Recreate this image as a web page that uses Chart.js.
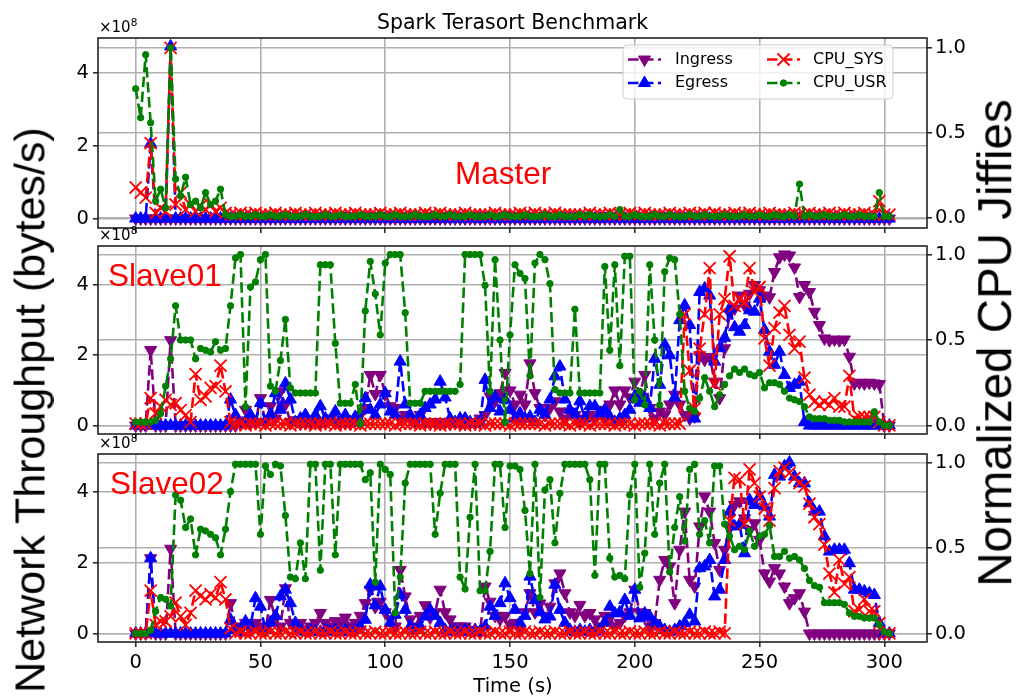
<!DOCTYPE html>
<html>
<head>
<meta charset="utf-8">
<title>Spark Terasort Benchmark</title>
<script src="https://cdn.jsdelivr.net/npm/chart.js@4.4.1/dist/chart.umd.min.js"></script>
<style>
  html, body { margin: 0; padding: 0; background: #fff; }
  #fig { position: relative; width: 1020px; height: 698px; overflow: hidden; }
  #fig canvas { position: absolute; left: 0; }
  .lbl { position: absolute; white-space: nowrap; line-height: 1; }
  .dv { font-family: "DejaVu Sans", sans-serif; color: #000; }
  .ls { font-family: "Liberation Sans", Arial, sans-serif; }
  .node { color: #ff0000; font-size: 31.5px; }
  .offset { font-size: 15px; }
  .offset span { font-size: 10.5px; position: relative; top: -5.5px; }
</style>
</head>
<body>
<div id="fig">
  <canvas id="master" width="1020" height="240" style="top:0"></canvas>
  <canvas id="slave01" width="1020" height="200" style="top:240px"></canvas>
  <canvas id="slave02" width="1020" height="258" style="top:440px"></canvas>

  <div class="lbl dv" style="left:512.5px; top:11.7px; font-size:20.5px; transform:translateX(-50%)">Spark Terasort Benchmark</div>
  <div class="lbl dv offset" style="left:99px; top:19.6px">×10<span>8</span></div>
  <div class="lbl dv offset" style="left:99px; top:227.6px">×10<span>8</span></div>
  <div class="lbl dv offset" style="left:99px; top:435.9px">×10<span>8</span></div>
  <div class="lbl ls node" style="left:455px; top:158.4px">Master</div>
  <div class="lbl ls node" style="left:108px; top:260.4px">Slave01</div>
  <div class="lbl ls node" style="left:110px; top:468.4px">Slave02</div>
  <div class="lbl dv" style="left:513px; top:675.5px; font-size:19.5px; transform:translateX(-50%)">Time (s)</div>
  <div class="lbl ls" style="left:30px; top:410px; font-size:43px; transform:translate(-50%,-50%) rotate(-90deg)">Network Throughput (bytes/s)</div>
  <div class="lbl ls" style="left:995.4px; top:342.5px; font-size:47.5px; transform:translate(-50%,-50%) rotate(-90deg)">Normalized CPU Jiffies</div>
</div>

<script>
// sample times (s)
const times = [
  0, 2, 4, 6, 8, 10, 12, 14, 16, 18,
  20, 22, 24, 26, 28, 30, 32, 34, 36, 38,
  40, 42, 44, 46, 48, 50, 52, 54, 56, 58,
  60, 62, 64, 66, 68, 70, 72, 74, 76, 78,
  80, 82, 84, 86, 88, 90, 92, 94, 96, 98,
  100, 102, 104, 106, 108, 110, 112, 114, 116, 118,
  120, 122, 124, 126, 128, 130, 132, 134, 136, 138,
  140, 142, 144, 146, 148, 150, 152, 154, 156, 158,
  160, 162, 164, 166, 168, 170, 172, 174, 176, 178,
  180, 182, 184, 186, 188, 190, 192, 194, 196, 198,
  200, 202, 204, 206, 208, 210, 212, 214, 216, 218,
  220, 222, 224, 226, 228, 230, 232, 234, 236, 238,
  240, 242, 244, 246, 248, 250, 252, 254, 256, 258,
  260, 262, 264, 266, 268, 270, 272, 274, 276, 278,
  280, 282, 284, 286, 288, 290, 292, 294, 296, 298,
  300, 302
];

const timeTicks = [0, 50, 100, 150, 200, 250, 300];
const throughputTicks = [0, 2, 4];      // x 1e8 bytes/s
const jiffyTicks = [0, 0.5, 1.0];

// ---- Master (network in 1e8 bytes/s, cpu normalized) ----
const masterIngress = [
  0, 0, 0, 0, 0, 0, 0, 0, 0, 0,
  0, 0, 0, 0, 0, 0, 0, 0, 0, 0,
  0, 0, 0, 0, 0, 0, 0, 0, 0, 0,
  0, 0, 0, 0, 0, 0, 0, 0, 0, 0,
  0, 0, 0, 0, 0, 0, 0, 0, 0, 0,
  0, 0, 0, 0, 0, 0, 0, 0, 0, 0,
  0, 0, 0, 0, 0, 0, 0, 0, 0, 0,
  0, 0, 0, 0, 0, 0, 0, 0, 0, 0,
  0, 0, 0, 0, 0, 0, 0, 0, 0, 0,
  0, 0, 0, 0, 0, 0, 0, 0, 0, 0,
  0, 0, 0, 0, 0, 0, 0, 0, 0, 0,
  0, 0, 0, 0, 0, 0, 0, 0, 0, 0,
  0, 0, 0, 0, 0, 0, 0, 0, 0, 0,
  0, 0, 0, 0, 0, 0, 0, 0, 0, 0,
  0, 0, 0, 0, 0, 0, 0, 0, 0, 0,
  0, 0
];
const masterEgress = [
  0, 0, 0, 2.05, 0, 0, 0, 4.72, 0, 0,
  0, 0, 0, 0, 0, 0, 0, 0, 0, 0,
  0, 0, 0, 0, 0, 0, 0, 0, 0, 0,
  0, 0, 0, 0, 0, 0, 0, 0, 0, 0,
  0, 0, 0, 0, 0, 0, 0, 0, 0, 0,
  0, 0, 0, 0, 0, 0, 0, 0, 0, 0,
  0, 0, 0, 0, 0, 0, 0, 0, 0, 0,
  0, 0, 0, 0, 0, 0, 0, 0, 0, 0,
  0, 0, 0, 0, 0, 0, 0, 0, 0, 0,
  0, 0, 0, 0, 0, 0, 0, 0, 0, 0,
  0, 0, 0, 0, 0, 0, 0, 0, 0, 0,
  0, 0, 0, 0, 0, 0, 0, 0, 0, 0,
  0, 0, 0, 0, 0, 0, 0, 0, 0, 0,
  0, 0, 0, 0, 0, 0, 0, 0, 0, 0,
  0, 0, 0, 0, 0, 0, 0, 0, 0, 0,
  0, 0
];
const masterSys = [
  0.18, 0.15, 0.12, 0.44, 0.03, 0.06, 0.04, 1.00, 0.08, 0.15,
  0.05, 0.08, 0.04, 0.07, 0.05, 0.08, 0.04, 0.06, 0.03, 0.02,
  0.02, 0.03, 0.02, 0.02, 0.03, 0.02, 0.02, 0.02, 0.03, 0.02,
  0.02, 0.02, 0.03, 0.02, 0.02, 0.02, 0.03, 0.02, 0.02, 0.02,
  0.03, 0.02, 0.02, 0.02, 0.03, 0.02, 0.02, 0.02, 0.02, 0.03,
  0.02, 0.02, 0.02, 0.03, 0.02, 0.02, 0.02, 0.02, 0.03, 0.02,
  0.02, 0.03, 0.02, 0.02, 0.02, 0.02, 0.03, 0.02, 0.02, 0.02,
  0.02, 0.02, 0.03, 0.02, 0.02, 0.02, 0.02, 0.03, 0.02, 0.02,
  0.03, 0.02, 0.02, 0.02, 0.03, 0.02, 0.02, 0.02, 0.02, 0.02,
  0.02, 0.03, 0.02, 0.02, 0.02, 0.03, 0.02, 0.02, 0.02, 0.03,
  0.02, 0.02, 0.03, 0.02, 0.02, 0.02, 0.02, 0.03, 0.02, 0.02,
  0.02, 0.03, 0.02, 0.02, 0.03, 0.02, 0.03, 0.02, 0.02, 0.02,
  0.03, 0.02, 0.02, 0.03, 0.02, 0.02, 0.02, 0.03, 0.02, 0.02,
  0.02, 0.02, 0.03, 0.02, 0.02, 0.03, 0.02, 0.02, 0.02, 0.03,
  0.02, 0.02, 0.03, 0.02, 0.02, 0.02, 0.03, 0.02, 0.02, 0.10,
  0.02, 0.02
];
const masterUsr = [
  0.76, 0.59, 0.96, 0.56, 0.10, 0.17, 0.06, 1.00, 0.23, 0.13,
  0.24, 0.08, 0.10, 0.06, 0.15, 0.08, 0.10, 0.17, 0.02, 0.01,
  0.01, 0.02, 0.01, 0.01, 0.02, 0.01, 0.01, 0.02, 0.01, 0.01,
  0.02, 0.01, 0.01, 0.01, 0.02, 0.01, 0.01, 0.01, 0.02, 0.01,
  0.01, 0.02, 0.01, 0.01, 0.01, 0.02, 0.01, 0.01, 0.01, 0.02,
  0.01, 0.01, 0.02, 0.01, 0.01, 0.01, 0.02, 0.01, 0.01, 0.01,
  0.02, 0.01, 0.01, 0.02, 0.01, 0.01, 0.01, 0.02, 0.01, 0.01,
  0.01, 0.02, 0.01, 0.01, 0.02, 0.01, 0.01, 0.01, 0.02, 0.01,
  0.01, 0.01, 0.02, 0.01, 0.01, 0.02, 0.01, 0.01, 0.01, 0.02,
  0.01, 0.02, 0.01, 0.01, 0.01, 0.02, 0.01, 0.05, 0.01, 0.01,
  0.02, 0.01, 0.01, 0.01, 0.02, 0.01, 0.01, 0.02, 0.01, 0.01,
  0.01, 0.02, 0.01, 0.01, 0.02, 0.01, 0.01, 0.01, 0.02, 0.01,
  0.01, 0.01, 0.02, 0.01, 0.01, 0.02, 0.01, 0.01, 0.02, 0.01,
  0.01, 0.02, 0.01, 0.20, 0.01, 0.02, 0.01, 0.01, 0.02, 0.01,
  0.01, 0.01, 0.02, 0.01, 0.01, 0.02, 0.01, 0.01, 0.01, 0.15,
  0.01, 0.01
];

// ---- Slave01 ----
const slave01Ingress = [
  0, 0, 0, 2.15, 0, 0, 0, 2.43, 0, 0,
  0, 0, 0, 0, 0, 0, 0, 0, 0, 0,
  0, 0.05, 0.45, 0.05, 0.1, 0.78, 0.1, 0.55, 0.2, 0.97,
  0.6, 0.1, 0.15, 0.05, 0.1, 0.05, 0.1, 0.05, 0.1, 0.2,
  0.1, 0.05, 0.1, 0.05, 0.15, 0.3, 0.5, 1.44, 0.9, 1.44,
  0.9, 0.55, 0.5, 0.2, 0.3, 0.2, 0.1, 0.3, 0.1, 0.05,
  0.1, 0.05, 0.1, 0.05, 0.1, 0.05, 0.05, 0.1, 0.05, 0.2,
  0.3, 0.83, 0.7, 0.92, 1.5, 1.0, 0.6, 0.88, 0.6, 1.77,
  0.92, 0.5, 0.3, 0.5, 0.69, 0.4, 0.2, 0.4, 0.3, 0.1,
  0.2, 0.3, 0.2, 0.45, 0.2, 0.6, 1.0, 0.6, 1.0, 0.8,
  1.25, 0.9, 1.44, 0.5, 0.2, 0.4, 0.3, 0.6, 0.88, 0.6,
  0.3, 0.2, 0.26, 2.0, 1.87, 1.95, 1.25, 0.78, 2.2, 3.19,
  3.33, 3.7, 3.42, 3.75, 4.0, 3.85, 3.7, 3.65, 4.37, 4.79,
  4.87, 4.84, 4.5, 3.66, 4.0, 3.8, 3.24, 2.86, 2.48, 2.43,
  2.45, 2.43, 2.45, 1.96, 1.2, 1.22, 1.2, 1.22, 1.2, 1.18,
  0, 0
];
const slave01Egress = [
  0, 0, 0, 0, 0, 0, 0, 0, 0, 0,
  0, 0, 0, 0, 0, 0, 0, 0, 0, 0.74,
  0.3, 0.05, 0.1, 0.3, 0.1, 0.64, 0.1, 0.3, 0.92, 0.45,
  1.2, 0.74, 0.1, 0.2, 0.3, 0.1, 0.3, 0.55, 0.2, 0.1,
  0.4, 0.1, 0.3, 0.1, 0.25, 0.1, 0.78, 0.45, 0.3, 0.6,
  0.92, 0.4, 0.3, 1.82, 0.6, 0.3, 0.1, 0.3, 0.5, 0.6,
  0.74, 1.25, 0.8, 0.2, 0.1, 0.2, 0.2, 0.1, 0.05, 0.1,
  1.3, 0.5, 0.8, 0.4, 0.74, 0.45, 0.2, 0.35, 0.2, 0.25,
  0.1, 0.45, 0.3, 0.74, 1.4, 1.68, 0.74, 0.45, 0.3, 0.69,
  0.2, 0.55, 0.55, 0.35, 0.45, 0.25, 0.1, 0.2, 0.3, 0.45,
  0.83, 0.65, 0.78, 0.5, 1.9, 1.16, 2.3, 2.0, 0.8, 3.0,
  3.42, 2.86, 0.2, 3.8, 3.9, 3.7, 1.82, 2.2, 2.5, 3.33,
  2.8, 2.67, 2.86, 3.28, 3.24, 3.61, 2.72, 2.1, 1.73, 2.1,
  1.44, 1.07, 1.16, 1.25, 0.1, 0, 0, 0, 0, 0,
  0, 0, 0, 0, 0, 0, 0, 0, 0, 0,
  0, 0
];
const slave01Sys = [
  0.01, 0.01, 0.01, 0.16, 0.07, 0.11, 0.15, 0.12, 0.13, 0.09,
  0.06, 0.02, 0.30, 0.15, 0.17, 0.22, 0.23, 0.35, 0.20, 0.02,
  0.01, 0.01, 0.00, 0.01, 0.01, 0.01, 0.00, 0.01, 0.01, 0.01,
  0.01, 0.00, 0.01, 0.01, 0.01, 0.01, 0.00, 0.01, 0.01, 0.01,
  0.00, 0.01, 0.01, 0.01, 0.01, 0.00, 0.01, 0.01, 0.01, 0.01,
  0.01, 0.01, 0.00, 0.01, 0.01, 0.01, 0.01, 0.00, 0.01, 0.01,
  0.01, 0.00, 0.01, 0.01, 0.01, 0.01, 0.00, 0.01, 0.01, 0.01,
  0.00, 0.01, 0.01, 0.01, 0.01, 0.00, 0.01, 0.01, 0.01, 0.01,
  0.01, 0.01, 0.00, 0.01, 0.01, 0.01, 0.01, 0.00, 0.01, 0.01,
  0.01, 0.00, 0.01, 0.01, 0.01, 0.01, 0.00, 0.01, 0.01, 0.01,
  0.00, 0.01, 0.01, 0.01, 0.01, 0.00, 0.01, 0.01, 0.01, 0.01,
  0.65, 0.32, 0.10, 0.45, 0.65, 0.92, 0.24, 0.65, 0.74, 0.99,
  0.70, 0.74, 0.72, 0.92, 0.78, 0.81, 0.51, 0.35, 0.57, 0.66,
  0.70, 0.53, 0.45, 0.49, 0.28, 0.18, 0.14, 0.12, 0.14, 0.12,
  0.16, 0.11, 0.11, 0.29, 0.04, 0.05, 0.05, 0.05, 0.05, 0.02,
  0.00, 0.00
];
const slave01Usr = [
  0.02, 0.02, 0.02, 0.02, 0.03, 0.07, 0.23, 0.39, 0.70, 0.50,
  0.50, 0.50, 0.39, 0.45, 0.44, 0.43, 0.49, 0.44, 0.45, 0.70,
  0.98, 1.00, 0.11, 0.81, 0.84, 0.97, 1.00, 0.23, 0.20, 0.38,
  0.62, 0.22, 0.19, 0.19, 0.19, 0.19, 0.19, 0.94, 0.94, 0.94,
  0.48, 0.13, 0.13, 0.13, 0.24, 0.01, 0.67, 0.96, 0.77, 0.53,
  0.95, 1.00, 1.00, 1.00, 0.66, 0.13, 0.13, 0.13, 0.20, 0.20,
  0.20, 0.20, 0.20, 0.20, 0.20, 0.24, 1.00, 1.00, 1.00, 1.00,
  0.82, 0.20, 0.97, 0.50, 0.02, 0.53, 0.94, 0.89, 0.86, 0.29,
  0.95, 1.00, 0.97, 0.83, 0.21, 0.19, 0.19, 0.19, 0.68, 0.19,
  0.19, 0.19, 0.19, 0.19, 0.93, 0.44, 0.94, 0.35, 0.99, 0.99,
  0.15, 0.20, 0.12, 0.94, 0.50, 0.12, 0.90, 0.98, 0.97, 0.65,
  0.20, 0.10, 0.08, 0.16, 0.28, 0.20, 0.11, 0.18, 0.24, 0.29,
  0.33, 0.31, 0.33, 0.30, 0.29, 0.31, 0.22, 0.25, 0.25, 0.24,
  0.20, 0.16, 0.15, 0.14, 0.11, 0.05, 0.04, 0.04, 0.04, 0.03,
  0.03, 0.03, 0.02, 0.02, 0.02, 0.02, 0.02, 0.02, 0.08, 0.02,
  0.00, 0.00
];

// ---- Slave02 ----
const slave02Ingress = [
  0, 0, 0, 2.13, 0, 0, 0, 2.4, 0, 0,
  0, 0, 0, 0, 0, 0, 0, 0, 0, 0.86,
  0.2, 0.1, 0.3, 0.1, 0.3, 0.2, 0.1, 0.95, 0.4, 0.2,
  1.28, 0.3, 0.2, 0.3, 0.1, 0.2, 0.3, 0.58, 0.3, 0.2,
  0.35, 0.3, 0.45, 0.2, 0.3, 0.5, 0.86, 1.24, 0.75, 0.9,
  0.6, 0.4, 0.2, 1.8, 1.05, 0.4, 0.2, 0.5, 0.8, 0.45,
  0.6, 1.24, 0.6, 0.4, 0.2, 0.2, 0.2, 0.1, 0.1, 0.05,
  1.33, 0.9, 0.5, 0.4, 0.5, 0.25, 0.3, 0.1, 0.6, 1.14,
  0.6, 0.85, 0.5, 0.76, 1.42, 1.7, 1.14, 0.6, 0.5, 0.81,
  0.5, 0.58, 0.4, 0.2, 0.5, 0.45, 0.2, 0.3, 0.5, 0.6,
  1.24, 0.6, 0.58, 0.2, 0.3, 1.52, 2.08, 1.9, 0.86, 2.37,
  3.45, 1.52, 1.33, 3.03, 3.88, 3.45, 2.56, 1.8, 2.37, 2.98,
  3.64, 3.74, 3.26, 2.93, 3.12, 2.65, 1.7, 1.47, 1.85, 1.7,
  1.33, 0.86, 1.0, 1.14, 0.62, 0, 0, 0, 0, 0,
  0, 0, 0, 0, 0, 0, 0, 0, 0, 0,
  0, 0
];
const slave02Egress = [
  0, 0, 0, 2.13, 0, 0, 0, 0, 0, 0,
  0, 0, 0, 0, 0, 0, 0, 0, 0, 0.39,
  0.1, 0.05, 0.34, 0.2, 1.0, 0.76, 0.1, 0.3, 0.5, 1.05,
  1.24, 0.86, 0.3, 0.1, 0.05, 0.1, 0.05, 0.05, 0.1, 0.05,
  0.1, 0.05, 0.1, 0.05, 0.1, 0.2, 0.39, 1.38, 0.8, 1.33,
  0.67, 0.3, 0.53, 1.1, 0.67, 0.2, 0.1, 0.2, 0.48, 0.67,
  0.5, 0.3, 0.1, 0.05, 0.1, 0.05, 0.1, 0.05, 0.1, 0.05,
  0.2, 0.76, 0.5, 0.86, 1.42, 1.0, 0.67, 0.3, 0.5, 1.61,
  0.95, 0.6, 0.4, 0.48, 1.38, 0.67, 0.3, 0.1, 0.05, 0.1,
  0.05, 0.1, 0.05, 0.1, 0.3, 0.76, 0.57, 0.6, 0.95, 0.5,
  1.24, 0.43, 0.57, 0.48, 0.3, 0.2, 0.1, 0.05, 0.1, 0.2,
  0.3, 0.53, 0.34, 1.85, 1.9, 2.08, 1.05, 1.24, 2.08, 3.45,
  3.03, 3.08, 2.27, 3.78, 3.64, 3.88, 3.6, 3.31, 4.49, 4.44,
  4.73, 4.84, 4.44, 4.25, 4.25, 3.69, 3.45, 3.45, 2.75, 2.32,
  2.37, 2.37, 2.37, 1.99, 1.24, 1.24, 1.19, 1.14, 1.09, 0.3,
  0, 0
];
const slave02Sys = [
  0.00, 0.00, 0.00, 0.25, 0.05, 0.07, 0.07, 0.10, 0.18, 0.10,
  0.05, 0.12, 0.25, 0.22, 0.20, 0.23, 0.21, 0.30, 0.20, 0.03,
  0.00, 0.01, 0.00, 0.00, 0.01, 0.00, 0.00, 0.01, 0.00, 0.00,
  0.01, 0.00, 0.00, 0.01, 0.00, 0.00, 0.01, 0.00, 0.00, 0.01,
  0.00, 0.00, 0.01, 0.00, 0.00, 0.01, 0.00, 0.00, 0.01, 0.00,
  0.00, 0.01, 0.00, 0.00, 0.01, 0.00, 0.00, 0.01, 0.00, 0.00,
  0.01, 0.00, 0.00, 0.01, 0.00, 0.00, 0.01, 0.00, 0.00, 0.01,
  0.00, 0.00, 0.01, 0.00, 0.00, 0.01, 0.00, 0.00, 0.01, 0.00,
  0.00, 0.01, 0.00, 0.00, 0.01, 0.00, 0.00, 0.01, 0.00, 0.00,
  0.01, 0.00, 0.00, 0.01, 0.00, 0.00, 0.01, 0.00, 0.00, 0.01,
  0.00, 0.00, 0.01, 0.00, 0.00, 0.01, 0.00, 0.00, 0.01, 0.00,
  0.00, 0.01, 0.00, 0.00, 0.01, 0.00, 0.00, 0.01, 0.00, 0.66,
  0.91, 0.90, 0.64, 0.96, 0.88, 0.80, 0.73, 0.66, 0.85, 0.95,
  0.97, 0.94, 0.91, 0.88, 0.86, 0.76, 0.68, 0.64, 0.52, 0.35,
  0.24, 0.43, 0.29, 0.33, 0.13, 0.14, 0.20, 0.13, 0.13, 0.06,
  0.00, 0.00
];
const slave02Usr = [
  0.00, 0.00, 0.00, 0.02, 0.13, 0.21, 0.20, 0.16, 0.81, 0.78,
  0.62, 0.67, 0.46, 0.61, 0.60, 0.58, 0.56, 0.46, 0.61, 0.83,
  0.99, 0.99, 0.99, 0.99, 0.99, 0.58, 0.98, 0.93, 0.99, 0.98,
  0.69, 0.33, 0.32, 0.53, 0.32, 0.99, 0.99, 0.37, 0.99, 0.99,
  0.46, 0.99, 0.99, 0.99, 0.99, 0.99, 0.90, 0.94, 0.30, 0.99,
  0.96, 0.93, 0.12, 0.33, 0.88, 0.99, 0.99, 0.99, 0.99, 0.99,
  0.58, 0.82, 0.99, 0.99, 0.99, 0.33, 0.26, 0.68, 0.99, 0.25,
  0.25, 0.48, 0.99, 0.99, 0.62, 0.98, 0.98, 0.96, 0.72, 0.35,
  0.99, 0.21, 0.84, 0.90, 0.53, 0.82, 0.99, 0.99, 0.99, 0.99,
  0.99, 0.90, 0.34, 0.99, 0.99, 0.44, 0.33, 0.34, 0.32, 0.81,
  0.99, 0.27, 0.47, 0.99, 0.58, 0.88, 0.99, 0.36, 0.62, 0.80,
  0.54, 0.96, 0.99, 0.58, 0.66, 0.53, 0.98, 0.98, 0.64, 0.57,
  0.49, 0.51, 0.49, 0.60, 0.51, 0.57, 0.58, 0.63, 0.45, 0.45,
  0.48, 0.44, 0.45, 0.43, 0.38, 0.31, 0.28, 0.27, 0.18, 0.18,
  0.18, 0.18, 0.17, 0.12, 0.10, 0.10, 0.09, 0.09, 0.09, 0.05,
  0.01, 0.00
];

const GRID = '#b0b0b0';
const INK = '#222222';
const TICK_FONT = { family: 'DejaVu Sans', size: 19.5 };
const DASH = [10.5, 4.5];

const STYLE = {
  Ingress: { color: '#800080', shape: 'triangle', rot: 180, r: 7,   bw: 1 },
  Egress:  { color: '#0000ff', shape: 'triangle', rot: 0,   r: 7,   bw: 1 },
  CPU_SYS: { color: '#ff0000', shape: 'crossRot', rot: 0,   r: 8.5, bw: 1.8 },
  CPU_USR: { color: '#008000', shape: 'circle',   rot: 0,   r: 3.2, bw: 1 },
};

function series(label, values, axis, order) {
  const s = STYLE[label];
  return {
    label, yAxisID: axis, order,
    data: times.map((t, i) => ({ x: t, y: values[i] })),
    borderColor: s.color, backgroundColor: s.color,
    borderWidth: 2.6, borderDash: DASH, borderJoinStyle: 'round',
    pointStyle: s.shape, pointRotation: s.rot, pointRadius: s.r,
    pointBackgroundColor: s.color, pointBorderColor: s.color, pointBorderWidth: s.bw,
    tension: 0, fill: false,
  };
}

// black box round each plot area, on top of the lines like matplotlib spines
const framePlugin = {
  id: 'frame',
  afterDatasetsDraw(chart) {
    const { ctx, chartArea: a } = chart;
    ctx.save();
    ctx.strokeStyle = INK;
    ctx.lineWidth = 1.6;
    ctx.strokeRect(a.left, a.top, a.right - a.left, a.bottom - a.top);
    ctx.restore();
  }
};

// two-column legend drawn inside the top panel
const legendPlugin = {
  id: 'boxLegend',
  afterDraw(chart) {
    const ctx = chart.ctx;
    const bx = 623, by = 45, bw = 270, bh = 54, br = 4;
    ctx.save();
    ctx.beginPath();
    ctx.moveTo(bx + br, by);
    ctx.arcTo(bx + bw, by, bx + bw, by + bh, br);
    ctx.arcTo(bx + bw, by + bh, bx, by + bh, br);
    ctx.arcTo(bx, by + bh, bx, by, br);
    ctx.arcTo(bx, by, bx + bw, by, br);
    ctx.closePath();
    ctx.fillStyle = 'rgba(255,255,255,0.8)';
    ctx.fill();
    ctx.strokeStyle = '#cccccc';
    ctx.lineWidth = 1;
    ctx.stroke();

    const slots = [[628, 59.5, 47], [628, 83, 47], [767, 59.5, 46], [767, 83, 46]];
    chart.data.datasets.forEach((ds, i) => {
      const [x0, y, tx] = slots[i];
      ctx.setLineDash(ds.borderDash);
      ctx.lineWidth = ds.borderWidth;
      ctx.strokeStyle = ds.borderColor;
      ctx.beginPath();
      ctx.moveTo(x0, y);
      ctx.lineTo(x0 + 33, y);
      ctx.stroke();
      ctx.setLineDash([]);
      ctx.fillStyle = ds.pointBackgroundColor;
      ctx.strokeStyle = ds.pointBorderColor;
      ctx.lineWidth = ds.pointBorderWidth;
      Chart.helpers.drawPoint(ctx, {
        pointStyle: ds.pointStyle, rotation: ds.pointRotation,
        radius: ds.pointRadius, borderWidth: ds.pointBorderWidth
      }, x0 + 16.5, y);
      ctx.fillStyle = '#000';
      ctx.font = '16px "DejaVu Sans"';
      ctx.textAlign = 'left';
      ctx.textBaseline = 'middle';
      ctx.fillText(ds.label, x0 + tx, y);
    });
    ctx.restore();
  }
};

function gridOpts() {
  return { color: GRID, lineWidth: 1.6, drawTicks: true, tickLength: 5, tickColor: INK, tickWidth: 1.5 };
}

function panel(id, data, lim, box) {
  return new Chart(document.getElementById(id), {
    type: 'line',
    data: {
      datasets: [
        series('Ingress', data.ingress, 'y', 4),
        series('Egress', data.egress, 'y', 3),
        series('CPU_SYS', data.sys, 'y1', 2),
        series('CPU_USR', data.usr, 'y1', 1),
      ]
    },
    options: {
      responsive: false,
      animation: false,
      events: [],
      layout: { padding: { top: box.top, left: 0, right: 0, bottom: 0 }, autoPadding: false },
      plugins: { legend: { display: false }, tooltip: { enabled: false } },
      scales: {
        x: {
          type: 'linear', min: -15.1, max: 317.1,
          afterBuildTicks: ax => { ax.ticks = timeTicks.map(v => ({ value: v })); },
          afterFit: ax => { ax.height = box.xh; ax.paddingLeft = 0; ax.paddingRight = 0; },
          border: { display: false },
          grid: gridOpts(),
          ticks: { display: box.labels, padding: 4, color: '#000', font: TICK_FONT, maxRotation: 0, autoSkip: false }
        },
        y: {
          position: 'left', min: lim.net[0], max: lim.net[1],
          afterBuildTicks: ax => { ax.ticks = throughputTicks.map(v => ({ value: v })); },
          afterFit: ax => { ax.width = 98; ax.paddingTop = 0; ax.paddingBottom = 0; },
          border: { display: false },
          grid: gridOpts(),
          ticks: { padding: 4, color: '#000', font: TICK_FONT, callback: v => String(v) }
        },
        y1: {
          position: 'right', min: lim.cpu[0], max: lim.cpu[1],
          afterBuildTicks: ax => { ax.ticks = jiffyTicks.map(v => ({ value: v })); },
          afterFit: ax => { ax.width = 93; ax.paddingTop = 0; ax.paddingBottom = 0; },
          border: { display: false },
          grid: gridOpts(),
          ticks: { padding: 3, color: '#000', font: TICK_FONT, callback: v => v.toFixed(1) }
        }
      }
    },
    plugins: box.legend ? [framePlugin, legendPlugin] : [framePlugin]
  });
}

panel('master',
  { ingress: masterIngress, egress: masterEgress, sys: masterSys, usr: masterUsr },
  { net: [-0.26, 4.95], cpu: [-0.058, 1.058] },
  { top: 38, xh: 12, labels: false, legend: true });

panel('slave01',
  { ingress: slave01Ingress, egress: slave01Egress, sys: slave01Sys, usr: slave01Usr },
  { net: [-0.24, 5.11], cpu: [-0.05, 1.05] },
  { top: 6, xh: 6, labels: false, legend: false });

panel('slave02',
  { ingress: slave02Ingress, egress: slave02Egress, sys: slave02Sys, usr: slave02Usr },
  { net: [-0.24, 5.08], cpu: [-0.05, 1.05] },
  { top: 14, xh: 56, labels: true, legend: false });
</script>
</body>
</html>
